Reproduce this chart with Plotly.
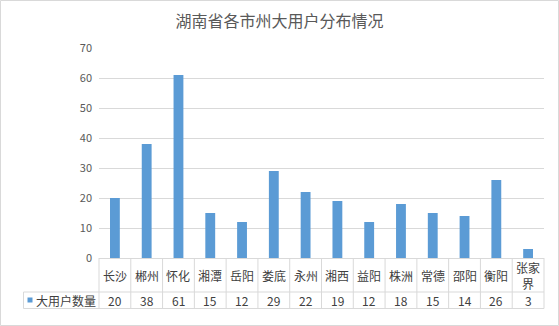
import plotly.graph_objects as go

# Large-customer counts per prefecture-level city in Hunan
cities = ["长沙", "郴州", "怀化", "湘潭", "岳阳", "娄底", "永州",
          "湘西", "益阳", "株洲", "常德", "邵阳", "衡阳", "张家界"]
counts = [20, 38, 61, 15, 12, 29, 22, 19, 12, 18, 15, 14, 26, 3]
series_name = "大用户数量"
title_text = "湖南省各市州大用户分布情况"
y_ticks = [0, 10, 20, 30, 40, 50, 60, 70]

W, H = 559, 326
ML, MR, MT, MB = 99, 15, 48, 68
PW, PH = W - ML - MR, H - MT - MB

BAR = "#5B9BD5"
GRID = "#D9D9D9"
TXT = "#595959"
TBL = "#404040"
FONT = "Noto Sans CJK SC"


def py(pix):
    """Pixel row (from top of figure) -> paper y."""
    return (H - MB - pix) / PH


def px(pix):
    """Pixel column (from left of figure) -> paper x."""
    return (pix - ML) / PW


fig = go.Figure(go.Bar(
    x=cities, y=counts, name=series_name,
    marker=dict(color=BAR, line=dict(width=0)),
    width=0.31, showlegend=False,
))

shapes = []
line = dict(color=GRID, width=1)
row_top, row_mid, row_bot = 258, 292, 308.5

# column separators of the data table, placed on category boundaries
for i in range(1, len(cities)):
    shapes.append(dict(type="line", xref="x", yref="paper",
                       x0=i - 0.5, x1=i - 0.5, y0=py(row_top), y1=py(row_bot),
                       line=line, layer="above"))
for xp in (0, 1):
    shapes.append(dict(type="line", xref="paper", yref="paper",
                       x0=xp, x1=xp, y0=py(row_top), y1=py(row_bot),
                       line=line, layer="above"))
# left edge of the series-name cell
shapes.append(dict(type="line", xref="paper", yref="paper",
                   x0=px(23.5), x1=px(23.5), y0=py(row_mid), y1=py(row_bot),
                   line=line))
# horizontal rules of the table
for r in (row_mid, row_bot):
    shapes.append(dict(type="line", xref="paper", yref="paper",
                       x0=px(23.5), x1=1, y0=py(r), y1=py(r), line=line))
# legend key square
shapes.append(dict(type="rect", xref="paper", yref="paper",
                   x0=px(27.5), x1=px(32.5), y0=py(297.5), y1=py(302.5),
                   fillcolor=BAR, line=dict(width=0)))
# chart border
shapes.append(dict(type="rect", xref="paper", yref="paper",
                   x0=px(0.5), x1=px(558.5), y0=py(325.5), y1=py(0.5),
                   line=dict(color=GRID, width=1), fillcolor="rgba(0,0,0,0)"))

annotations = []
for c, v in zip(cities, counts):
    label = c if len(c) <= 2 else c[:2] + "<br>" + c[2:]
    annotations.append(dict(x=c, xref="x", y=py(275), yref="paper",
                            text=label, showarrow=False, yanchor="middle",
                            font=dict(family=FONT, size=12, color=TBL)))
    annotations.append(dict(x=c, xref="x", y=py(300.5), yref="paper",
                            text=str(v), showarrow=False, yanchor="middle",
                            font=dict(family=FONT, size=12, color=TBL)))
annotations.append(dict(x=px(34), xref="paper", y=py(300.5), yref="paper",
                        text=series_name, showarrow=False, xanchor="left",
                        yanchor="middle",
                        font=dict(family=FONT, size=12, color=TBL)))

fig.update_layout(
    width=W, height=H,
    margin=dict(l=ML, r=MR, t=MT, b=MB),
    paper_bgcolor="white", plot_bgcolor="white",
    title=dict(text=title_text, x=0.5, xref="container", xanchor="center",
               y=1 - 21 / H, yref="container", yanchor="middle",
               font=dict(family=FONT, size=16, color=TXT)),
    xaxis=dict(type="category", showticklabels=False, showgrid=False,
               showline=True, linecolor=GRID, linewidth=1, ticks="",
               range=[-0.5, len(cities) - 0.5], fixedrange=True),
    yaxis=dict(range=[0, 70], tickvals=y_ticks, showgrid=True,
               gridcolor=GRID, gridwidth=1, zeroline=False, showline=False,
               ticks="", ticklabelstandoff=6,
               tickfont=dict(family=FONT, size=11, color=TXT)),
    shapes=shapes, annotations=annotations,
    bargap=0.69, showlegend=False,
)

fig.write_html("out.html")
